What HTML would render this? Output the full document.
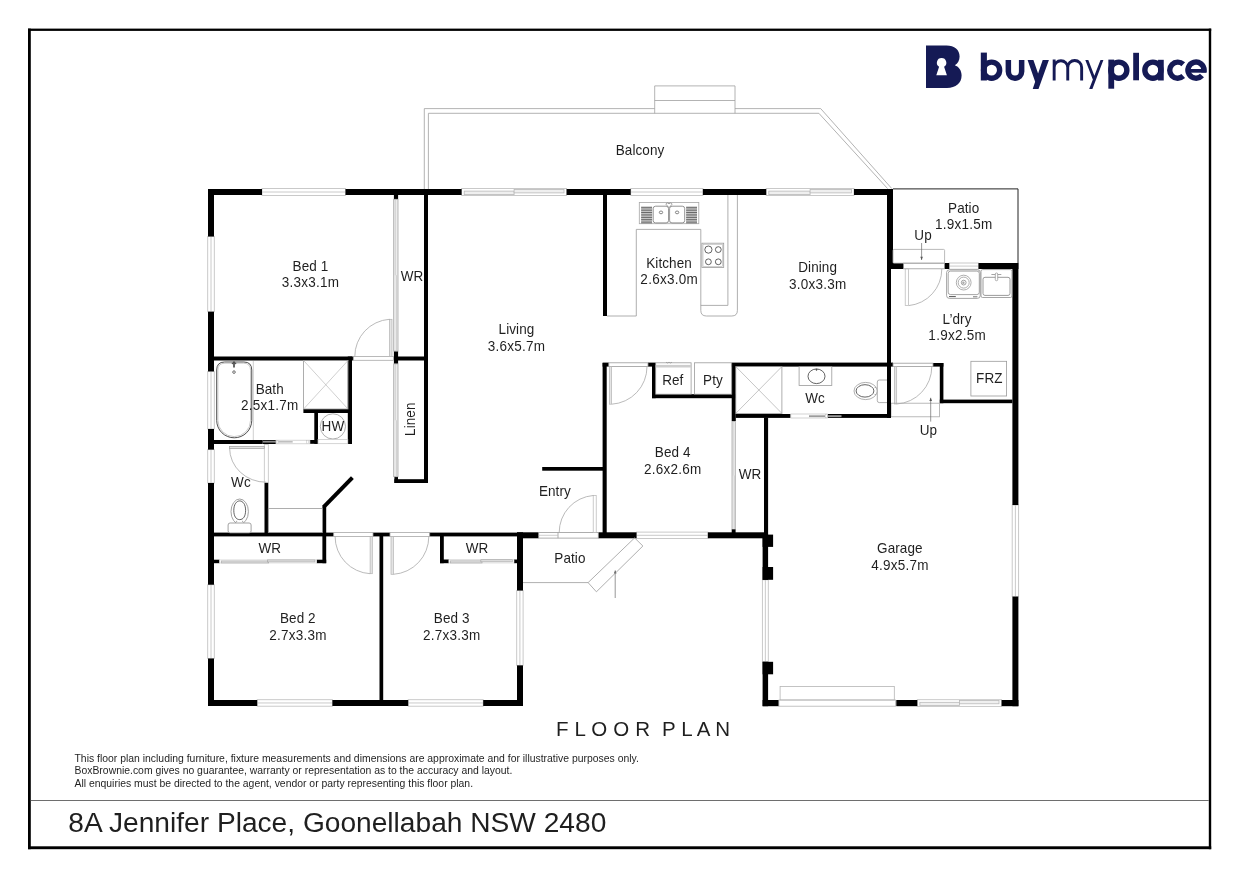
<!DOCTYPE html>
<html><head><meta charset="utf-8"><title>Floor Plan</title>
<style>html,body{margin:0;padding:0;background:#fff;}body{width:1240px;height:877px;overflow:hidden;}svg{display:block;will-change:transform;}text{font-family:"Liberation Sans",sans-serif;fill:#1f1f1f;}</style>
</head><body>
<svg width="1240" height="877" viewBox="0 0 1240 877">
<rect x="0" y="0" width="1240" height="877" fill="#fff"/>
<g fill="#000">
<rect x="28.00" y="28.60" width="2.80" height="820.60"/>
<rect x="28.00" y="28.60" width="1183.20" height="2.30"/>
<rect x="1208.80" y="28.60" width="2.40" height="820.60"/>
<rect x="28.00" y="846.30" width="1183.20" height="2.90"/>
</g>
<line x1="30.80" y1="800.50" x2="1208.80" y2="800.50" stroke="#6e6e6e" stroke-width="1"/>
<path d="M424.3,189 V108.6 H654.7 M735,108.6 H820.7 L891.8,188.6" fill="none" stroke="#a0a0a0" stroke-width="0.8" />
<path d="M428.4,189 V113.3 H818.9 L887.6,188.6" fill="none" stroke="#a0a0a0" stroke-width="0.8" />
<path d="M654.7,113.3 V85.9 H735 V113.3" fill="none" stroke="#a0a0a0" stroke-width="0.8" />
<line x1="654.70" y1="100.50" x2="735.00" y2="100.50" stroke="#a0a0a0" stroke-width="0.8"/>
<rect x="262.00" y="188.50" width="83.50" height="7.00" rx="0" fill="#fff" stroke="#c4c4c4" stroke-width="0.9"/>
<line x1="262.00" y1="192.00" x2="345.50" y2="192.00" stroke="#c4c4c4" stroke-width="0.9"/>
<rect x="207.70" y="236.50" width="6.60" height="75.20" rx="0" fill="#fff" stroke="#c4c4c4" stroke-width="0.9"/>
<line x1="211.00" y1="236.50" x2="211.00" y2="311.70" stroke="#c4c4c4" stroke-width="0.9"/>
<rect x="207.70" y="371.40" width="6.60" height="57.60" rx="0" fill="#fff" stroke="#c4c4c4" stroke-width="0.9"/>
<line x1="211.00" y1="371.40" x2="211.00" y2="429.00" stroke="#c4c4c4" stroke-width="0.9"/>
<rect x="207.70" y="449.60" width="6.60" height="33.40" rx="0" fill="#fff" stroke="#c4c4c4" stroke-width="0.9"/>
<line x1="211.00" y1="449.60" x2="211.00" y2="483.00" stroke="#c4c4c4" stroke-width="0.9"/>
<rect x="207.70" y="584.70" width="6.60" height="73.80" rx="0" fill="#fff" stroke="#c4c4c4" stroke-width="0.9"/>
<line x1="211.00" y1="584.70" x2="211.00" y2="658.50" stroke="#c4c4c4" stroke-width="0.9"/>
<rect x="257.20" y="699.70" width="75.20" height="6.50" rx="0" fill="#fff" stroke="#c4c4c4" stroke-width="0.9"/>
<line x1="257.20" y1="702.95" x2="332.40" y2="702.95" stroke="#c4c4c4" stroke-width="0.9"/>
<rect x="408.20" y="699.70" width="75.00" height="6.50" rx="0" fill="#fff" stroke="#c4c4c4" stroke-width="0.9"/>
<line x1="408.20" y1="702.95" x2="483.20" y2="702.95" stroke="#c4c4c4" stroke-width="0.9"/>
<rect x="516.70" y="590.50" width="6.40" height="74.90" rx="0" fill="#fff" stroke="#c4c4c4" stroke-width="0.9"/>
<line x1="519.90" y1="590.50" x2="519.90" y2="665.40" stroke="#c4c4c4" stroke-width="0.9"/>
<rect x="461.60" y="188.50" width="105.00" height="7.00" rx="0" fill="#fff" stroke="#c4c4c4" stroke-width="0.9"/>
<rect x="464.20" y="191.10" width="49.90" height="3.50" rx="0" fill="#efefef" stroke="#b8b8b8" stroke-width="0.8"/>
<rect x="514.10" y="189.40" width="49.90" height="3.50" rx="0" fill="#efefef" stroke="#b8b8b8" stroke-width="0.8"/>
<rect x="630.70" y="188.50" width="72.20" height="7.00" rx="0" fill="#fff" stroke="#c4c4c4" stroke-width="0.9"/>
<line x1="630.70" y1="192.00" x2="702.90" y2="192.00" stroke="#c4c4c4" stroke-width="0.9"/>
<rect x="766.20" y="188.50" width="87.80" height="7.00" rx="0" fill="#fff" stroke="#c4c4c4" stroke-width="0.9"/>
<rect x="768.80" y="191.10" width="41.30" height="3.50" rx="0" fill="#efefef" stroke="#b8b8b8" stroke-width="0.8"/>
<rect x="810.10" y="189.40" width="41.30" height="3.50" rx="0" fill="#efefef" stroke="#b8b8b8" stroke-width="0.8"/>
<rect x="636.50" y="532.10" width="71.40" height="6.40" rx="0" fill="#fff" stroke="#c4c4c4" stroke-width="0.9"/>
<line x1="636.50" y1="535.30" x2="707.90" y2="535.30" stroke="#c4c4c4" stroke-width="0.9"/>
<rect x="762.40" y="579.80" width="5.90" height="82.00" rx="0" fill="#fff" stroke="#c4c4c4" stroke-width="0.9"/>
<line x1="765.35" y1="579.80" x2="765.35" y2="661.80" stroke="#c4c4c4" stroke-width="0.9"/>
<rect x="1012.20" y="505.00" width="6.40" height="91.60" rx="0" fill="#fff" stroke="#c4c4c4" stroke-width="0.9"/>
<line x1="1015.40" y1="505.00" x2="1015.40" y2="596.60" stroke="#c4c4c4" stroke-width="0.9"/>
<rect x="917.30" y="699.70" width="84.30" height="6.70" rx="0" fill="#fff" stroke="#c4c4c4" stroke-width="0.9"/>
<rect x="919.90" y="702.30" width="39.55" height="3.20" rx="0" fill="#efefef" stroke="#b8b8b8" stroke-width="0.8"/>
<rect x="959.45" y="700.60" width="39.55" height="3.20" rx="0" fill="#efefef" stroke="#b8b8b8" stroke-width="0.8"/>
<rect x="949.20" y="263.00" width="29.30" height="6.20" rx="0" fill="#fff" stroke="#c4c4c4" stroke-width="0.9"/>
<line x1="949.20" y1="266.10" x2="978.50" y2="266.10" stroke="#c4c4c4" stroke-width="0.9"/>
<g fill="#000">
<rect x="208.00" y="189.00" width="54.00" height="6.00"/>
<rect x="345.50" y="189.00" width="116.10" height="6.00"/>
<rect x="566.60" y="189.00" width="64.10" height="6.00"/>
<rect x="702.90" y="189.00" width="63.30" height="6.00"/>
<rect x="854.00" y="189.00" width="39.00" height="6.00"/>
<rect x="208.00" y="189.00" width="6.00" height="47.50"/>
<rect x="208.00" y="311.70" width="6.00" height="59.70"/>
<rect x="208.00" y="429.00" width="6.00" height="20.60"/>
<rect x="208.00" y="483.00" width="6.00" height="101.70"/>
<rect x="208.00" y="658.50" width="6.00" height="47.50"/>
<rect x="208.00" y="700.00" width="49.20" height="6.00"/>
<rect x="332.40" y="700.00" width="75.80" height="6.00"/>
<rect x="483.20" y="700.00" width="39.80" height="6.00"/>
<rect x="517.00" y="532.30" width="6.00" height="58.20"/>
<rect x="517.00" y="665.40" width="6.00" height="40.60"/>
<rect x="517.00" y="532.30" width="21.70" height="6.00"/>
<rect x="214.00" y="356.50" width="139.30" height="4.00"/>
<rect x="347.80" y="356.50" width="4.20" height="87.50"/>
<rect x="393.90" y="351.10" width="4.20" height="12.80"/>
<rect x="393.90" y="195.00" width="4.20" height="4.30"/>
<rect x="398.00" y="356.50" width="30.00" height="4.00"/>
<rect x="424.00" y="195.00" width="4.00" height="288.00"/>
<rect x="394.40" y="479.20" width="33.60" height="3.80"/>
<rect x="394.40" y="476.70" width="3.60" height="6.30"/>
<rect x="303.40" y="409.00" width="47.10" height="4.00"/>
<rect x="314.30" y="411.00" width="3.70" height="32.80"/>
<rect x="214.00" y="440.00" width="48.70" height="4.00"/>
<rect x="309.80" y="440.00" width="8.20" height="3.80"/>
<rect x="264.50" y="482.50" width="3.80" height="53.50"/>
<rect x="214.00" y="532.60" width="119.70" height="3.80"/>
<rect x="373.00" y="532.60" width="17.00" height="3.80"/>
<rect x="429.50" y="532.60" width="87.50" height="3.80"/>
<rect x="322.40" y="505.00" width="3.80" height="58.20"/>
<rect x="214.00" y="559.70" width="5.60" height="3.50"/>
<rect x="316.60" y="559.70" width="9.60" height="3.50"/>
<rect x="379.50" y="533.00" width="3.70" height="168.00"/>
<rect x="440.00" y="536.00" width="3.80" height="27.20"/>
<rect x="440.00" y="559.50" width="8.90" height="3.70"/>
<rect x="514.00" y="559.50" width="3.50" height="3.70"/>
<rect x="542.20" y="467.00" width="60.80" height="3.70"/>
<rect x="602.60" y="363.00" width="4.10" height="175.00"/>
<rect x="598.30" y="532.30" width="38.20" height="6.00"/>
<rect x="707.90" y="532.30" width="60.10" height="6.00"/>
<rect x="603.00" y="195.00" width="4.00" height="121.00"/>
<rect x="602.60" y="362.60" width="6.20" height="4.00"/>
<rect x="648.00" y="362.60" width="7.70" height="4.00"/>
<rect x="652.00" y="363.00" width="3.70" height="35.20"/>
<rect x="652.00" y="394.20" width="83.50" height="4.00"/>
<rect x="731.70" y="363.00" width="4.10" height="58.00"/>
<rect x="731.70" y="362.60" width="161.30" height="4.00"/>
<rect x="735.80" y="414.00" width="54.90" height="3.90"/>
<rect x="827.40" y="414.00" width="63.60" height="3.90"/>
<rect x="887.00" y="189.00" width="6.00" height="80.00"/>
<rect x="887.00" y="269.00" width="4.00" height="97.60"/>
<rect x="887.00" y="366.00" width="4.00" height="51.90"/>
<rect x="764.00" y="417.50" width="4.10" height="117.50"/>
<rect x="762.60" y="534.60" width="5.50" height="45.20"/>
<rect x="762.60" y="661.80" width="5.50" height="44.40"/>
<rect x="762.60" y="534.60" width="10.50" height="12.30"/>
<rect x="762.60" y="567.00" width="10.50" height="12.80"/>
<rect x="762.60" y="661.80" width="10.50" height="12.50"/>
<rect x="762.60" y="700.00" width="16.30" height="6.20"/>
<rect x="896.30" y="700.00" width="21.00" height="6.20"/>
<rect x="1001.60" y="700.00" width="16.80" height="6.20"/>
<rect x="1012.40" y="263.00" width="6.00" height="242.00"/>
<rect x="1012.40" y="596.60" width="6.00" height="109.60"/>
<rect x="887.00" y="263.00" width="16.60" height="6.00"/>
<rect x="944.50" y="263.00" width="4.70" height="6.00"/>
<rect x="978.50" y="263.00" width="39.90" height="6.00"/>
<rect x="939.80" y="399.60" width="72.60" height="3.60"/>
<rect x="939.80" y="363.00" width="3.60" height="40.20"/>
<rect x="933.00" y="363.00" width="10.40" height="3.60"/>
</g>
<path d="M324.3,506.4 L352.4,477.6" fill="none" stroke="#000" stroke-width="4" stroke-linecap="butt"/>
<path d="M893,188.9 H1018 V263" fill="none" stroke="#222" stroke-width="1" />
<rect x="393.70" y="199.30" width="4.30" height="151.80" rx="0" fill="#ececec" stroke="#a8a8a8" stroke-width="0.8"/>
<line x1="395.25" y1="199.30" x2="395.25" y2="275.20" stroke="#c4c4c4" stroke-width="0.7"/>
<line x1="396.45" y1="275.20" x2="396.45" y2="351.10" stroke="#c4c4c4" stroke-width="0.7"/>
<rect x="393.70" y="363.90" width="4.30" height="112.80" rx="0" fill="#ececec" stroke="#a8a8a8" stroke-width="0.8"/>
<line x1="395.25" y1="363.90" x2="395.25" y2="420.30" stroke="#c4c4c4" stroke-width="0.7"/>
<line x1="396.45" y1="420.30" x2="396.45" y2="476.70" stroke="#c4c4c4" stroke-width="0.7"/>
<rect x="219.60" y="559.90" width="97.00" height="3.10" rx="0" fill="#fff" stroke="#cfcfcf" stroke-width="0.6"/>
<rect x="221.20" y="560.95" width="47.50" height="2.05" rx="0" fill="#dcdcdc" stroke="#a4a4a4" stroke-width="0.6"/>
<rect x="267.50" y="559.90" width="47.50" height="2.05" rx="0" fill="#dcdcdc" stroke="#a4a4a4" stroke-width="0.6"/>
<rect x="448.90" y="559.70" width="65.10" height="3.30" rx="0" fill="#fff" stroke="#cfcfcf" stroke-width="0.6"/>
<rect x="450.50" y="560.85" width="31.55" height="2.15" rx="0" fill="#dcdcdc" stroke="#a4a4a4" stroke-width="0.6"/>
<rect x="480.85" y="559.70" width="31.55" height="2.15" rx="0" fill="#dcdcdc" stroke="#a4a4a4" stroke-width="0.6"/>
<rect x="732.00" y="421.50" width="3.30" height="108.00" rx="0" fill="#ececec" stroke="#a8a8a8" stroke-width="0.8"/>
<line x1="733.05" y1="421.50" x2="733.05" y2="475.50" stroke="#c4c4c4" stroke-width="0.7"/>
<line x1="734.25" y1="475.50" x2="734.25" y2="529.50" stroke="#c4c4c4" stroke-width="0.7"/>
<rect x="731.7" y="529.4" width="3.9" height="3.6" fill="#000"/>
<rect x="353.30" y="356.40" width="40.30" height="3.90" rx="0" fill="none" stroke="#a8a8a8" stroke-width="0.8"/>
<rect x="389.40" y="319.30" width="2.60" height="37.20" rx="0" fill="#e4e4e4" stroke="#b4b4b4" stroke-width="0.7"/>
<path d="M354.80,356.50 A37.2,37.2 0 0 1 389.40,319.30" fill="none" stroke="#a8a8a8" stroke-width="0.8" />
<rect x="264.30" y="444.40" width="4.00" height="38.10" rx="0" fill="#fff" stroke="#c2c2c2" stroke-width="0.8"/>
<rect x="229.50" y="446.50" width="34.80" height="2.00" rx="0" fill="#e4e4e4" stroke="#a8a8a8" stroke-width="0.8"/>
<path d="M229.6,448 A36.4,34.2 0 0 0 266.2,482.2" fill="none" stroke="#a8a8a8" stroke-width="0.8" />
<rect x="333.70" y="532.50" width="39.30" height="4.00" rx="0" fill="none" stroke="#a8a8a8" stroke-width="0.8"/>
<rect x="370.10" y="536.50" width="2.20" height="37.20" rx="0" fill="#e4e4e4" stroke="#b4b4b4" stroke-width="0.7"/>
<path d="M335.10,536.50 A37.2,37.2 0 0 0 370.10,573.70" fill="none" stroke="#a8a8a8" stroke-width="0.8" />
<rect x="390.00" y="532.50" width="39.70" height="4.00" rx="0" fill="none" stroke="#a8a8a8" stroke-width="0.8"/>
<rect x="391.00" y="536.50" width="2.40" height="37.80" rx="0" fill="#e4e4e4" stroke="#b4b4b4" stroke-width="0.7"/>
<path d="M428.80,536.50 A37.8,37.8 0 0 1 393.40,574.30" fill="none" stroke="#a8a8a8" stroke-width="0.8" />
<rect x="538.70" y="532.50" width="59.60" height="5.60" rx="0" fill="none" stroke="#9a9a9a" stroke-width="0.8"/>
<line x1="558.00" y1="532.50" x2="558.00" y2="538.10" stroke="#9a9a9a" stroke-width="0.8"/>
<line x1="538.70" y1="535.30" x2="558.00" y2="535.30" stroke="#bbb" stroke-width="0.7"/>
<rect x="593.20" y="495.50" width="3.00" height="37.00" rx="0" fill="#fff" stroke="#b4b4b4" stroke-width="0.7"/>
<path d="M559.20,532.50 A37,37 0 0 1 593.20,495.50" fill="none" stroke="#a8a8a8" stroke-width="0.8" />
<rect x="608.80" y="362.80" width="39.20" height="3.60" rx="0" fill="none" stroke="#9a9a9a" stroke-width="0.8"/>
<rect x="609.40" y="366.60" width="2.20" height="37.60" rx="0" fill="#e4e4e4" stroke="#b4b4b4" stroke-width="0.7"/>
<path d="M647.00,366.60 A37.6,37.6 0 0 1 611.60,404.20" fill="none" stroke="#a8a8a8" stroke-width="0.8" />
<rect x="903.60" y="263.20" width="40.90" height="5.60" rx="0" fill="none" stroke="#9a9a9a" stroke-width="0.8"/>
<rect x="905.20" y="269.00" width="3.40" height="36.60" rx="0" fill="#fff" stroke="#b4b4b4" stroke-width="0.7"/>
<path d="M941.80,269.00 A36.6,36.6 0 0 1 908.60,305.60" fill="none" stroke="#a8a8a8" stroke-width="0.8" />
<rect x="893.00" y="363.20" width="40.00" height="3.20" rx="0" fill="none" stroke="#9a9a9a" stroke-width="0.8"/>
<rect x="894.40" y="366.60" width="2.30" height="37.40" rx="0" fill="#e4e4e4" stroke="#b4b4b4" stroke-width="0.7"/>
<path d="M931.80,366.60 A37.4,37.4 0 0 1 896.70,404.00" fill="none" stroke="#a8a8a8" stroke-width="0.8" />
<rect x="893.00" y="249.40" width="51.60" height="13.80" rx="1" fill="none" stroke="#a8a8a8" stroke-width="0.8"/>
<rect x="891.00" y="403.20" width="48.60" height="13.60" rx="0" fill="none" stroke="#a8a8a8" stroke-width="0.8"/>
<line x1="921.60" y1="243.00" x2="921.60" y2="260.00" stroke="#6a6a6a" stroke-width="0.7"/>
<path d="M920.30,256.80 L921.60,260.00 L922.90,256.80 Z" fill="#555"/>
<line x1="930.70" y1="421.60" x2="930.70" y2="397.80" stroke="#6a6a6a" stroke-width="0.7"/>
<path d="M929.40,401.00 L930.70,397.80 L932.00,401.00 Z" fill="#555"/>
<line x1="615.20" y1="598.00" x2="615.20" y2="570.40" stroke="#6a6a6a" stroke-width="0.7"/>
<path d="M613.90,573.60 L615.20,570.40 L616.50,573.60 Z" fill="#555"/>
<path d="M523,582.6 H588.1" fill="none" stroke="#9a9a9a" stroke-width="0.8" />
<path d="M588.1,582.6 L596.4,591.8 L642.9,546 L634.6,537.9 Z" fill="none" stroke="#9a9a9a" stroke-width="0.8" />
<rect x="780.10" y="686.40" width="114.20" height="13.60" rx="0" fill="none" stroke="#b4b4b4" stroke-width="0.8"/>
<rect x="778.90" y="700.00" width="116.70" height="6.20" rx="0" fill="none" stroke="#b4b4b4" stroke-width="0.8"/>
<path d="M607,316 H636.3 V229.4 H700.8 V310.4 Q700.8,316 706.4,316 H731.8 Q737.4,316 737.4,310.4 V195" fill="none" stroke="#9a9a9a" stroke-width="0.8" />
<path d="M700.8,305.4 H727.9 V195" fill="none" stroke="#9a9a9a" stroke-width="0.8" />
<rect x="639.30" y="202.40" width="59.50" height="21.30" rx="0" fill="none" stroke="#a6a6a6" stroke-width="0.8"/>
<rect x="653.20" y="206.20" width="15.30" height="16.70" rx="2.4" fill="none" stroke="#777" stroke-width="0.8"/>
<rect x="669.60" y="206.20" width="15.10" height="16.70" rx="2.4" fill="none" stroke="#777" stroke-width="0.8"/>
<line x1="641.10" y1="207.30" x2="652.10" y2="207.30" stroke="#6a6a6a" stroke-width="1.15"/>
<line x1="686.10" y1="207.30" x2="697.00" y2="207.30" stroke="#6a6a6a" stroke-width="1.15"/>
<line x1="641.10" y1="209.02" x2="652.10" y2="209.02" stroke="#6a6a6a" stroke-width="1.15"/>
<line x1="686.10" y1="209.02" x2="697.00" y2="209.02" stroke="#6a6a6a" stroke-width="1.15"/>
<line x1="641.10" y1="210.74" x2="652.10" y2="210.74" stroke="#6a6a6a" stroke-width="1.15"/>
<line x1="686.10" y1="210.74" x2="697.00" y2="210.74" stroke="#6a6a6a" stroke-width="1.15"/>
<line x1="641.10" y1="212.46" x2="652.10" y2="212.46" stroke="#6a6a6a" stroke-width="1.15"/>
<line x1="686.10" y1="212.46" x2="697.00" y2="212.46" stroke="#6a6a6a" stroke-width="1.15"/>
<line x1="641.10" y1="214.18" x2="652.10" y2="214.18" stroke="#6a6a6a" stroke-width="1.15"/>
<line x1="686.10" y1="214.18" x2="697.00" y2="214.18" stroke="#6a6a6a" stroke-width="1.15"/>
<line x1="641.10" y1="215.90" x2="652.10" y2="215.90" stroke="#6a6a6a" stroke-width="1.15"/>
<line x1="686.10" y1="215.90" x2="697.00" y2="215.90" stroke="#6a6a6a" stroke-width="1.15"/>
<line x1="641.10" y1="217.62" x2="652.10" y2="217.62" stroke="#6a6a6a" stroke-width="1.15"/>
<line x1="686.10" y1="217.62" x2="697.00" y2="217.62" stroke="#6a6a6a" stroke-width="1.15"/>
<line x1="641.10" y1="219.34" x2="652.10" y2="219.34" stroke="#6a6a6a" stroke-width="1.15"/>
<line x1="686.10" y1="219.34" x2="697.00" y2="219.34" stroke="#6a6a6a" stroke-width="1.15"/>
<line x1="641.10" y1="221.06" x2="652.10" y2="221.06" stroke="#6a6a6a" stroke-width="1.15"/>
<line x1="686.10" y1="221.06" x2="697.00" y2="221.06" stroke="#6a6a6a" stroke-width="1.15"/>
<line x1="641.10" y1="222.78" x2="652.10" y2="222.78" stroke="#6a6a6a" stroke-width="1.15"/>
<line x1="686.10" y1="222.78" x2="697.00" y2="222.78" stroke="#6a6a6a" stroke-width="1.15"/>
<ellipse cx="661" cy="212.4" rx="1.7" ry="1.4" fill="#fff" stroke="#555" stroke-width="0.7"/>
<ellipse cx="677.1" cy="212.4" rx="1.7" ry="1.4" fill="#fff" stroke="#555" stroke-width="0.7"/>
<path d="M669,207.6 L666.2,204.6 a1.2,1.2 0 1 1 2.8,-0.6 a1.2,1.2 0 1 1 2.8,0.6 Z" fill="#fff" stroke="#777" stroke-width="0.7" />
<line x1="669.00" y1="207.40" x2="669.00" y2="222.60" stroke="#aaa" stroke-width="0.6"/>
<rect x="701.90" y="243.20" width="21.80" height="24.20" rx="0" fill="none" stroke="#9a9a9a" stroke-width="0.8"/>
<rect x="703.00" y="244.30" width="19.60" height="22.00" rx="0" fill="none" stroke="#b4b4b4" stroke-width="0.6"/>
<circle cx="708.4" cy="249.6" r="3.6" fill="none" stroke="#3c3c3c" stroke-width="0.8"/>
<circle cx="718.3" cy="249.6" r="2.9" fill="none" stroke="#3c3c3c" stroke-width="0.8"/>
<circle cx="708.4" cy="261.8" r="2.9" fill="none" stroke="#3c3c3c" stroke-width="0.8"/>
<circle cx="718.3" cy="261.8" r="2.9" fill="none" stroke="#3c3c3c" stroke-width="0.8"/>
<rect x="655.70" y="362.80" width="35.40" height="31.40" rx="0" fill="none" stroke="#9a9a9a" stroke-width="0.8"/>
<rect x="694.60" y="362.80" width="37.10" height="31.40" rx="0" fill="none" stroke="#9a9a9a" stroke-width="0.8"/>
<rect x="655.7" y="364.9" width="35.4" height="2.6" fill="#cdcdcd"/>
<path d="M666,362.2 q1.5,1.6 3,0 q1.5,1.6 3,0" fill="none" stroke="#888" stroke-width="0.6" />
<rect x="303.60" y="360.50" width="44.40" height="48.50" rx="0" fill="none" stroke="#9a9a9a" stroke-width="0.8"/>
<line x1="303.60" y1="360.50" x2="348.00" y2="409.00" stroke="#b0b0b0" stroke-width="0.6"/>
<line x1="348.00" y1="360.50" x2="303.60" y2="409.00" stroke="#b0b0b0" stroke-width="0.6"/>
<line x1="253.30" y1="361.00" x2="253.30" y2="440.00" stroke="#c4c4c4" stroke-width="0.8"/>
<path d="M216.7,370 Q216.7,362 224.6,362 H243.9 Q251.75,362 251.75,370 V420.4 A17.52,17.4 0 0 1 216.7,420.4 Z" fill="none" stroke="#3c3c3c" stroke-width="0.9" />
<path d="M217.9,370.2 Q217.9,363.2 225,363.2 H243.5 Q250.55,363.2 250.55,370.2 V420.4 A16.32,16.2 0 0 1 217.9,420.4 Z" fill="none" stroke="#b5b5b5" stroke-width="0.7" />
<circle cx="234" cy="372.1" r="1.3" fill="#fff" stroke="#333" stroke-width="0.7"/>
<line x1="234.00" y1="361.60" x2="234.00" y2="367.60" stroke="#333" stroke-width="1.5"/>
<circle cx="232.5" cy="363.4" r="0.8" fill="#555"/><circle cx="235.5" cy="363.4" r="0.8" fill="#555"/>
<circle cx="332.9" cy="426.4" r="12.6" fill="none" stroke="#9a9a9a" stroke-width="0.8"/>
<rect x="262.7" y="440" width="13.3" height="4" fill="#000"/>
<rect x="263" y="440.8" width="12.9" height="1.8" fill="#8c8c8c"/>
<rect x="276.00" y="440.20" width="33.90" height="3.60" rx="0" fill="#fff" stroke="#c4c4c4" stroke-width="0.7"/>
<rect x="278.2" y="441.2" width="14.5" height="1.3" fill="#b0b0b0"/>
<rect x="276.20" y="440.30" width="1.80" height="3.40" rx="0" fill="#fff" stroke="#bbb" stroke-width="0.5"/>
<rect x="306.40" y="440.30" width="1.80" height="3.40" rx="0" fill="#fff" stroke="#bbb" stroke-width="0.5"/>
<rect x="318.00" y="439.60" width="29.80" height="4.10" rx="0" fill="#fff" stroke="#c4c4c4" stroke-width="0.7"/>
<ellipse cx="239.7" cy="511.6" rx="8.7" ry="12.6" fill="#fff" stroke="#8a8a8a" stroke-width="0.8"/>
<path d="M233.79999999999998,510.3 C233.79999999999998,497.8 245.6,497.8 245.6,510.3 C245.6,516.3 243.29999999999998,519.6 239.7,519.6 C236.1,519.6 233.79999999999998,516.3 233.79999999999998,510.3 Z" fill="none" stroke="#3c3c3c" stroke-width="0.8"/>
<circle cx="236.7" cy="521.3" r="0.5" fill="#777"/><circle cx="242.7" cy="521.3" r="0.5" fill="#777"/>
<rect x="228.10" y="523.00" width="23.00" height="9.90" rx="2" fill="#fff" stroke="#8a8a8a" stroke-width="0.8"/>
<rect x="268.30" y="508.60" width="54.10" height="24.00" rx="0" fill="none" stroke="#9a9a9a" stroke-width="0.8"/>
<rect x="735.80" y="366.60" width="46.10" height="46.80" rx="0" fill="none" stroke="#9a9a9a" stroke-width="0.8"/>
<line x1="735.80" y1="366.60" x2="781.90" y2="413.40" stroke="#a0a0a0" stroke-width="0.6"/>
<line x1="781.90" y1="366.60" x2="735.80" y2="413.40" stroke="#a0a0a0" stroke-width="0.6"/>
<rect x="799.10" y="366.60" width="32.70" height="18.80" rx="0" fill="none" stroke="#9a9a9a" stroke-width="0.8"/>
<ellipse cx="816.5" cy="376.3" rx="8.5" ry="7.3" fill="none" stroke="#3c3c3c" stroke-width="0.8"/>
<line x1="816.50" y1="368.80" x2="816.50" y2="370.60" stroke="#333" stroke-width="1.2"/>
<line x1="814.60" y1="369.30" x2="818.40" y2="369.30" stroke="#777" stroke-width="0.6"/>
<rect x="877.30" y="380.00" width="11.70" height="22.60" rx="2" fill="#fff" stroke="#9a9a9a" stroke-width="0.8"/>
<ellipse cx="865.6" cy="391" rx="11.6" ry="8.6" fill="#fff" stroke="#9a9a9a" stroke-width="0.8"/>
<ellipse cx="865" cy="390.9" rx="8.9" ry="6.2" fill="none" stroke="#3c3c3c" stroke-width="0.8"/>
<circle cx="875.2" cy="387.6" r="0.5" fill="#777"/><circle cx="875.2" cy="394.4" r="0.5" fill="#777"/>
<rect x="790.80" y="414.00" width="36.60" height="4.00" rx="0" fill="#fff" stroke="#c0c0c0" stroke-width="0.7"/>
<rect x="809" y="415.3" width="16" height="1.8" fill="#9c9c9c"/><rect x="827.9" y="415.2" width="13.6" height="1.9" fill="#9a9a9a"/>
<rect x="825.4" y="414.2" width="1.8" height="3.6" fill="#fff" stroke="#bbb" stroke-width="0.5"/>
<rect x="946.60" y="269.80" width="33.60" height="28.60" rx="2.8" fill="none" stroke="#8e8e8e" stroke-width="0.8"/>
<rect x="948.20" y="271.10" width="31.10" height="23.50" rx="2.4" fill="none" stroke="#8e8e8e" stroke-width="0.8"/>
<circle cx="963.7" cy="282.6" r="7.4" fill="none" stroke="#9a9a9a" stroke-width="0.8"/>
<circle cx="963.7" cy="282.6" r="5.5" fill="none" stroke="#9a9a9a" stroke-width="0.8"/>
<circle cx="963.7" cy="282.6" r="2.4" fill="none" stroke="#8a8a8a" stroke-width="0.8"/>
<circle cx="963.4" cy="282.8" r="1.2" fill="#aaa"/>
<line x1="949.00" y1="296.60" x2="955.80" y2="296.60" stroke="#555" stroke-width="1.0"/>
<line x1="973.00" y1="296.80" x2="977.40" y2="296.80" stroke="#777" stroke-width="1.0"/>
<rect x="981.00" y="269.60" width="31.00" height="27.90" rx="1.5" fill="none" stroke="#8e8e8e" stroke-width="0.8"/>
<rect x="983.00" y="277.30" width="27.00" height="18.10" rx="2" fill="none" stroke="#8e8e8e" stroke-width="0.9"/>
<rect x="995.30" y="273.00" width="2.40" height="7.70" rx="1.1" fill="#fff" stroke="#8e8e8e" stroke-width="0.7"/>
<line x1="991.40" y1="274.50" x2="995.30" y2="274.50" stroke="#8e8e8e" stroke-width="0.8"/>
<line x1="997.70" y1="274.50" x2="1001.30" y2="274.50" stroke="#8e8e8e" stroke-width="0.8"/>
<rect x="970.90" y="361.30" width="35.70" height="34.70" rx="0" fill="none" stroke="#9a9a9a" stroke-width="0.8"/>
<text transform="translate(310.44,270.80) scale(1,1.06)" font-size="13.5" letter-spacing="0.08" text-anchor="middle" >Bed 1</text>
<text transform="translate(310.52,287.40) scale(1,1.06)" font-size="13.5" letter-spacing="0.25" text-anchor="middle" >3.3x3.1m</text>
<text transform="translate(269.74,393.60) scale(1,1.06)" font-size="13.5" letter-spacing="0.08" text-anchor="middle" >Bath</text>
<text transform="translate(269.82,410.20) scale(1,1.06)" font-size="13.5" letter-spacing="0.25" text-anchor="middle" >2.5x1.7m</text>
<text transform="translate(297.84,622.90) scale(1,1.06)" font-size="13.5" letter-spacing="0.08" text-anchor="middle" >Bed 2</text>
<text transform="translate(297.93,639.50) scale(1,1.06)" font-size="13.5" letter-spacing="0.25" text-anchor="middle" >2.7x3.3m</text>
<text transform="translate(451.64,622.90) scale(1,1.06)" font-size="13.5" letter-spacing="0.08" text-anchor="middle" >Bed 3</text>
<text transform="translate(451.73,639.50) scale(1,1.06)" font-size="13.5" letter-spacing="0.25" text-anchor="middle" >2.7x3.3m</text>
<text transform="translate(672.64,457.10) scale(1,1.06)" font-size="13.5" letter-spacing="0.08" text-anchor="middle" >Bed 4</text>
<text transform="translate(672.73,473.70) scale(1,1.06)" font-size="13.5" letter-spacing="0.25" text-anchor="middle" >2.6x2.6m</text>
<text transform="translate(516.44,334.00) scale(1,1.06)" font-size="13.5" letter-spacing="0.08" text-anchor="middle" >Living</text>
<text transform="translate(516.52,350.60) scale(1,1.06)" font-size="13.5" letter-spacing="0.25" text-anchor="middle" >3.6x5.7m</text>
<text transform="translate(669.04,267.60) scale(1,1.06)" font-size="13.5" letter-spacing="0.08" text-anchor="middle" >Kitchen</text>
<text transform="translate(669.12,284.20) scale(1,1.06)" font-size="13.5" letter-spacing="0.25" text-anchor="middle" >2.6x3.0m</text>
<text transform="translate(817.64,272.40) scale(1,1.06)" font-size="13.5" letter-spacing="0.08" text-anchor="middle" >Dining</text>
<text transform="translate(817.73,289.00) scale(1,1.06)" font-size="13.5" letter-spacing="0.25" text-anchor="middle" >3.0x3.3m</text>
<text transform="translate(963.64,212.60) scale(1,1.06)" font-size="13.5" letter-spacing="0.08" text-anchor="middle" >Patio</text>
<text transform="translate(963.73,229.20) scale(1,1.06)" font-size="13.5" letter-spacing="0.25" text-anchor="middle" >1.9x1.5m</text>
<text transform="translate(957.04,323.50) scale(1,1.06)" font-size="13.5" letter-spacing="0.08" text-anchor="middle" >L&#8217;dry</text>
<text transform="translate(957.12,340.10) scale(1,1.06)" font-size="13.5" letter-spacing="0.25" text-anchor="middle" >1.9x2.5m</text>
<text transform="translate(899.84,553.20) scale(1,1.06)" font-size="13.5" letter-spacing="0.08" text-anchor="middle" >Garage</text>
<text transform="translate(899.92,569.80) scale(1,1.06)" font-size="13.5" letter-spacing="0.25" text-anchor="middle" >4.9x5.7m</text>
<text transform="translate(640.04,155.30) scale(1,1.06)" font-size="13.5" letter-spacing="0.08" text-anchor="middle" >Balcony</text>
<text transform="translate(412.04,280.80) scale(1,1.06)" font-size="13.5" letter-spacing="0.08" text-anchor="middle" >WR</text>
<text transform="translate(332.94,431.20) scale(1,1.06)" font-size="13.5" letter-spacing="0.08" text-anchor="middle" >HW</text>
<text transform="translate(240.94,486.80) scale(1,1.06)" font-size="13.5" letter-spacing="0.08" text-anchor="middle" >Wc</text>
<text transform="translate(269.74,552.80) scale(1,1.06)" font-size="13.5" letter-spacing="0.08" text-anchor="middle" >WR</text>
<text transform="translate(477.04,552.80) scale(1,1.06)" font-size="13.5" letter-spacing="0.08" text-anchor="middle" >WR</text>
<text transform="translate(554.84,496.10) scale(1,1.06)" font-size="13.5" letter-spacing="0.08" text-anchor="middle" >Entry</text>
<text transform="translate(569.94,563.00) scale(1,1.06)" font-size="13.5" letter-spacing="0.08" text-anchor="middle" >Patio</text>
<text transform="translate(672.74,384.60) scale(1,1.06)" font-size="13.5" letter-spacing="0.08" text-anchor="middle" >Ref</text>
<text transform="translate(712.94,384.60) scale(1,1.06)" font-size="13.5" letter-spacing="0.08" text-anchor="middle" >Pty</text>
<text transform="translate(815.04,403.10) scale(1,1.06)" font-size="13.5" letter-spacing="0.08" text-anchor="middle" >Wc</text>
<text transform="translate(750.04,479.30) scale(1,1.06)" font-size="13.5" letter-spacing="0.08" text-anchor="middle" >WR</text>
<text transform="translate(989.34,382.90) scale(1,1.06)" font-size="13.5" letter-spacing="0.08" text-anchor="middle" >FRZ</text>
<text transform="translate(923.04,240.00) scale(1,1.06)" font-size="13.5" letter-spacing="0.08" text-anchor="middle" >Up</text>
<text transform="translate(928.34,434.80) scale(1,1.06)" font-size="13.5" letter-spacing="0.08" text-anchor="middle" >Up</text>
<text transform="translate(414.8,419.2) rotate(-90) scale(1,1.06)" font-size="13.5" letter-spacing="0.08" text-anchor="middle">Linen</text>
<text x="556" y="736.1" font-size="20.5" letter-spacing="0.17" xml:space="preserve" style="white-space:pre" text-anchor="start" fill="#111">F L O O R  P L A N</text>
<text x="74.5" y="761.80" font-size="10.42" text-anchor="start" fill="#404040">This floor plan including furniture, fixture measurements and dimensions are approximate and for illustrative purposes only.</text>
<text x="74.5" y="774.40" font-size="10.42" text-anchor="start" fill="#404040">BoxBrownie.com gives no guarantee, warranty or representation as to the accuracy and layout.</text>
<text x="74.5" y="787.00" font-size="10.42" text-anchor="start" fill="#404040">All enquiries must be directed to the agent, vendor or party representing this floor plan.</text>
<text x="68.3" y="831.6" font-size="27" textLength="538" lengthAdjust="spacingAndGlyphs" text-anchor="start" fill="#111">8A Jennifer Place, Goonellabah NSW 2480</text>
<g fill="none" stroke="#151a55">
<path d="M926,45.6 H946.5 C954.5,45.6 959.6,50 959.6,56.4 C959.6,60.4 957.8,63.4 954.8,65.2 C959.2,66.8 961.6,70.6 961.6,75.6 C961.6,83.2 955.8,88.1 947,88.1 H926 Z" fill="#151a55" stroke="none"/>
<path d="M941.6,58 a4.7,4.7 0 0 1 2.5,8.7 L946.9,75.2 H936.3 L939.1,66.7 a4.7,4.7 0 0 1 2.5,-8.7 Z" fill="#fff" stroke="none"/>
<path d="M983.85,52.6 V80.5" stroke-width="6.1"/>
<circle cx="991.6" cy="70.15" r="8.05" stroke-width="5.4"/>
<path d="M1008.35,60 V71.6 A6.65,6.65 0 0 0 1021.65,71.6 V60" stroke-width="5.5"/>
<path d="M1027.6,60 L1033.4,60 L1038.1,73.4 L1042.7,60 L1048.9,60 L1038.5,88.9 L1032.7,88.9 L1035.15,81.8 Z" fill="#151a55" stroke="none"/>
<path d="M1054.15,59.6 V80.5 M1054.15,67.5 A6.8,6.8 0 0 1 1067.75,67.5 V80.5 M1067.75,67.5 A6.95,6.95 0 0 1 1081.65,67.5 V80.5" stroke-width="2.9"/>
<path d="M1100.5,60 H1103.4 L1092.4,88.9 H1089.2 Z M1085.3,60 H1088.3 L1096,80 H1093 Z" fill="#151a55" stroke="none"/>
<path d="M1111.25,59.6 V88.7" stroke-width="5.8"/>
<circle cx="1118.8" cy="70.15" r="8.05" stroke-width="5.4"/>
<path d="M1136.1,52.8 V80.3" stroke-width="5.8"/>
<circle cx="1152.9" cy="70.15" r="8.05" stroke-width="5.4"/>
<path d="M1160.9,59.8 V80.5" stroke-width="5.7"/>
<path d="M1183.24,64.26 A8.05,8.05 0 1 0 1183.24,76.04" stroke-width="5.4"/>
<path d="M1187.95,70.85 H1206.25" stroke-width="3.7"/>
<path d="M1204.05,72.5 V70.15 A8.05,8.05 0 1 0 1201.98,75.54" stroke-width="5.4"/>
</g>
<rect x="887" y="366" width="4" height="51.9" fill="#000"/>
</svg></body></html>
